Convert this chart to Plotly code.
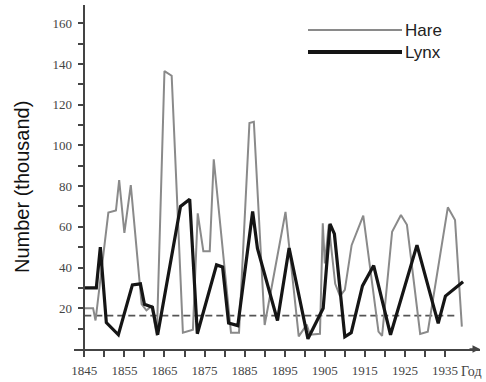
import plotly.graph_objects as go

# ---- data ----
hare_years = [1845, 1847.2, 1847.8, 1851, 1852.9, 1853.7, 1855, 1856.6, 1859.3, 1860.5,
              1861.8, 1863.1, 1865, 1866.8, 1869.6, 1872.1, 1873.3, 1874.7, 1876.3, 1877.3,
              1881.6, 1883.6, 1886.2, 1887.3, 1890, 1895.2, 1898.5, 1900.5, 1901.3, 1903.8,
              1904.5, 1905, 1906, 1907.6, 1908.8, 1910, 1911.7, 1914.6, 1918.4, 1919.3,
              1921.8, 1924, 1925.5, 1928.8, 1930.7, 1935.7, 1937.5, 1939.2]
hare = [20, 20, 14, 67, 68, 83, 57, 80.5, 22, 19,
        21, 6.5, 136.5, 134.2, 8, 9.5, 66.6, 48, 48, 93.2,
        8, 8, 111, 111.6, 11.8, 67.3, 6.2, 12, 7, 7.5,
        61.7, 42, 61, 32, 26, 29, 51, 65.5, 8.5, 6.4,
        57.6, 65.8, 61, 7.4, 8.5, 69.6, 63.4, 11]

lynx_years = [1845, 1848, 1849, 1850.5, 1853.5, 1857, 1859, 1860, 1862, 1863.3,
              1869, 1871.3, 1873.2, 1878, 1879.5, 1881, 1883.3, 1887, 1888.2, 1893.2,
              1896.1, 1900.8, 1904.6, 1906.3, 1907.4, 1910, 1911.6, 1914.4, 1917.2, 1921.4,
              1928, 1933.3, 1935.1, 1939.5]
lynx = [30, 30, 50, 13, 7, 31.5, 32, 22, 20.5, 7,
        70, 73.5, 7.5, 41.3, 40.3, 12.8, 11.5, 67.5, 49.4, 14,
        49.6, 5, 20, 61.5, 56.5, 6, 8, 31, 41, 7,
        51, 12.6, 26, 33]

threshold_years = [1845, 1938.3]
threshold_value = 16.4

x_tickvals = list(range(1845, 1940, 5))
x_ticktext = [str(v) if (v - 1845) % 10 == 0 else "" for v in x_tickvals]
y_tickvals = list(range(10, 170, 10))
y_ticktext = [str(v) if v % 20 == 0 else "" for v in y_tickvals]

series_names = ["Hare", "Lynx"]
x_axis_label = "Год"
y_axis_label = "Number (thousand)"

# ---- layout geometry ----
W, H = 486, 382
ML, MR, MT, MB = 74, 6, 5, 33
PW = W - ML - MR
PH = H - MT - MB
PX_PER_YEAR = 4.008
X0 = 1845 - 10.3 / PX_PER_YEAR
X1 = X0 + PW / PX_PER_YEAR
Y1 = PH / 2.036


def px_x(p):
    return (p - ML) / PW


def px_y(p):
    return (H - MB - p) / PH


fig = go.Figure()
fig.add_trace(go.Scatter(x=threshold_years, y=[threshold_value] * 2, mode="lines",
                         line=dict(color="#555555", width=1.6, dash="7px,4px"),
                         showlegend=False, hoverinfo="skip"))
fig.add_trace(go.Scatter(x=hare_years, y=hare, mode="lines", name=series_names[0],
                         line=dict(color="#8a8a8a", width=2), showlegend=False))
fig.add_trace(go.Scatter(x=lynx_years, y=lynx, mode="lines", name=series_names[1],
                         line=dict(color="#151515", width=3.2), showlegend=False))

tick_font = dict(family="Liberation Serif, Times New Roman, serif", size=13, color="#444444")

fig.update_layout(
    width=W, height=H,
    margin=dict(l=ML, r=MR, t=MT, b=MB, pad=0),
    paper_bgcolor="white", plot_bgcolor="white",
    showlegend=False,
    xaxis=dict(range=[X0, X1], showgrid=False, zeroline=False,
               showline=True, linecolor="#444444", linewidth=1.5,
               ticks="outside", ticklen=6, tickwidth=1.5, tickcolor="#444444",
               ticklabelstandoff=3,
               tickvals=x_tickvals, ticktext=x_ticktext, tickfont=tick_font),
    yaxis=dict(range=[0, Y1], showgrid=False, zeroline=False,
               anchor="free", position=10.3 / PW,
               showline=True, linecolor="#444444", linewidth=1.5,
               ticks="outside", ticklen=6, tickwidth=1.5, tickcolor="#444444",
               ticklabelstandoff=3,
               tickvals=y_tickvals, ticktext=y_ticktext, tickfont=tick_font),
)

# x axis arrow
fig.add_annotation(xref="paper", yref="paper", x=1.0, y=0, ax=-12, ay=0,
                   showarrow=True, arrowhead=2, arrowsize=1, arrowwidth=1.5,
                   arrowcolor="#444444", text="")
# x axis label (Год)
fig.add_annotation(xref="paper", yref="paper", x=px_x(459), y=px_y(372),
                   xanchor="left", yanchor="middle", showarrow=False,
                   text=x_axis_label,
                   font=dict(family="Liberation Serif, Times New Roman, serif", size=14,
                             color="#444444"))
# y axis title
fig.add_annotation(xref="paper", yref="paper", x=px_x(22), y=px_y(187),
                   xanchor="center", yanchor="middle", showarrow=False, textangle=-90,
                   text=y_axis_label,
                   font=dict(family="Liberation Sans, Arial, sans-serif", size=20, color="#111111"))

# legend
legend_rows = [(series_names[0], 30, "#8a8a8a", 2.2), (series_names[1], 52, "#151515", 4)]
for name, yy, col, lw in legend_rows:
    fig.add_shape(type="line", xref="paper", yref="paper",
                  x0=px_x(308), x1=px_x(402), y0=px_y(yy), y1=px_y(yy),
                  line=dict(color=col, width=lw))
    fig.add_annotation(xref="paper", yref="paper", x=px_x(403), y=px_y(yy),
                       xanchor="left", yanchor="middle", showarrow=False, text=name,
                       font=dict(family="Liberation Sans, Arial, sans-serif", size=17,
                                 color="#222222"))

fig.write_html("out.html")
